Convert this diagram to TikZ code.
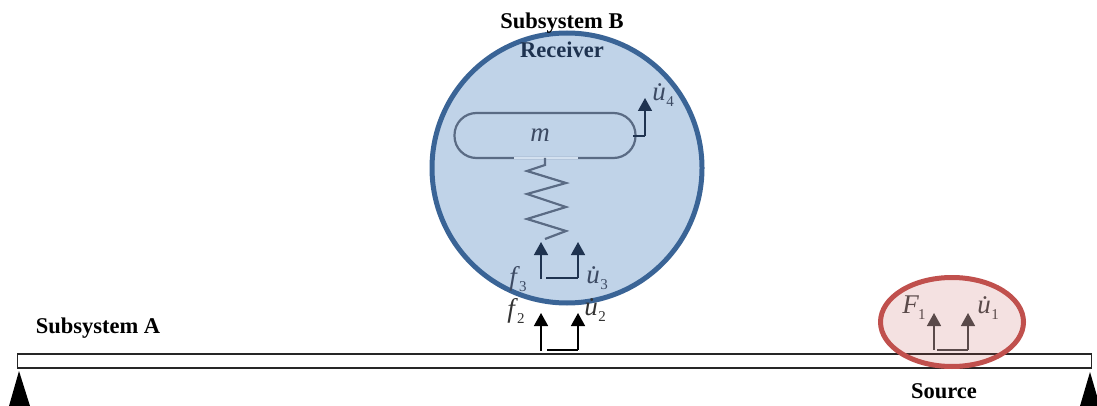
\documentclass[tikz,border=0pt]{standalone}
\usepackage{fontspec}
\setmainfont{Liberation Serif}
\usepackage{tikz}
\usetikzlibrary{arrows.meta,shapes.geometric}
\definecolor{recvline}{HTML}{3A6496}
\definecolor{recvfill}{HTML}{C0D3E8}
\definecolor{srcline}{HTML}{C0504D}
\definecolor{navyx}{HTML}{1F3350}
\definecolor{massline}{HTML}{5A6B84}
\definecolor{srcdark}{HTML}{5A4A4A}
\definecolor{labelx}{HTML}{3C4A63}
\newcommand{\lowsub}[1]{\raisebox{-6pt}{\fontsize{15}{15}\selectfont #1}}
\newcommand{\udot}[1]{{\itshape\.u}\kern0.5pt\lowsub{#1}}
\begin{document}
\begin{tikzpicture}[
  x=1pt, y=-1pt,
  title/.style={font=\bfseries\fontsize{22.5}{24}\selectfont, inner sep=0pt},
  sym/.style={font=\fontsize{27}{29}\selectfont, inner sep=0pt, text=labelx},
  arr/.style={-{Triangle[length=13pt,width=14pt]}, line width=1.5pt, navyx},
  link/.style={line width=1.5pt, navyx},
  support/.style={fill=black, draw=none}]
  \useasboundingbox (0,0) rectangle (1097,406);

  \node[draw=black!85, fill=white, line width=1.5pt, minimum width=1074pt, minimum height=14pt, inner sep=0pt, outer sep=0pt] (beam) at (554.5,361) {};
  \fill[support] (19,371) -- (30,406) -- (9,406) -- cycle;
  \fill[support] (1090,372) -- (1097,396) -- (1097,406) -- (1080,406) -- cycle;

  \node[circle, draw=recvline, fill=recvfill, line width=5pt, minimum size=270pt, inner sep=0pt, outer sep=0pt] (receiver) at (567,168) {};
  \node[ellipse, draw=srcline, fill=srcline, fill opacity=0.17, draw opacity=1, line width=5pt, minimum width=143pt, minimum height=89pt, inner sep=0pt, outer sep=0pt] (source) at (952,322) {};

  \node[draw=massline, rounded corners=22pt, line width=2.2pt, minimum width=181pt, minimum height=45pt, inner sep=0pt, outer sep=0pt] (mass) at (545,135.5) {};
  \draw[recvfill!70!white, line width=2.4pt] (514,158) -- (578,158);
  \coordinate (springtop) at (545,158);
  \coordinate (springend) at (545,239);
  \draw[massline, line width=2.2pt] (springtop) -- (545,165) -- (527,171) -- (566,183) -- (527,194) -- (566,207) -- (527,219) -- (566,231) -- (springend);

  \node[title] (subb) at (562,23) {Subsystem B};
  \node[title, text=navyx] (recv) at (562,50) {Receiver};
  \node[title] (suba) at (98,328) {Subsystem A};
  \node[title] (srclabel) at (944,391) {Source};

  \node[sym, font=\itshape\fontsize{27}{29}\selectfont] (mlabel) at (540,135) {m};
  \node[sym] (u4) at (663,95) {\udot{4}};
  \node[sym] (f3) at (518,279) {\textit{f}\kern-1pt\lowsub{3}};
  \node[sym] (u3) at (597,278) {\udot{3}};
  \node[sym, text=black!80] (f2) at (516,311) {\textit{f}\kern-1pt\lowsub{2}};
  \node[sym, text=black!80] (u2) at (595,310) {\udot{2}};
  \node[sym, text=srcdark] (F1) at (914,308) {\textit{F}\kern-1pt\lowsub{1}};
  \node[sym, text=srcdark] (u1) at (988,308) {\udot{1}};

  \coordinate (m4) at (633,136); \coordinate (m4b) at (645,136); \coordinate (m4t) at (645,98);
  \draw[link] (m4) -- (m4b);
  \draw[arr] (m4b) -- (m4t);

  \coordinate (f3b) at (541,279); \coordinate (f3t) at (541,242);
  \coordinate (u3l) at (546,278); \coordinate (u3b) at (578,278); \coordinate (u3t) at (578,242);
  \draw[arr] (f3b) -- (f3t);
  \draw[link] (u3l) -- (u3b);
  \draw[arr] (u3b) -- (u3t);

  \coordinate (f2b) at (541,351); \coordinate (f2t) at (541,313);
  \coordinate (u2l) at (547,350); \coordinate (u2b) at (578,350); \coordinate (u2t) at (578,313);
  \draw[arr, black] (f2b) -- (f2t);
  \draw[link, black] (u2l) -- (u2b);
  \draw[arr, black] (u2b) -- (u2t);

  \coordinate (F1b) at (934,350); \coordinate (F1t) at (934,313);
  \coordinate (u1l) at (937,350); \coordinate (u1b) at (968,350); \coordinate (u1t) at (968,313);
  \draw[arr, srcdark] (F1b) -- (F1t);
  \draw[link, srcdark] (u1l) -- (u1b);
  \draw[arr, srcdark] (u1b) -- (u1t);
\end{tikzpicture}
\end{document}
